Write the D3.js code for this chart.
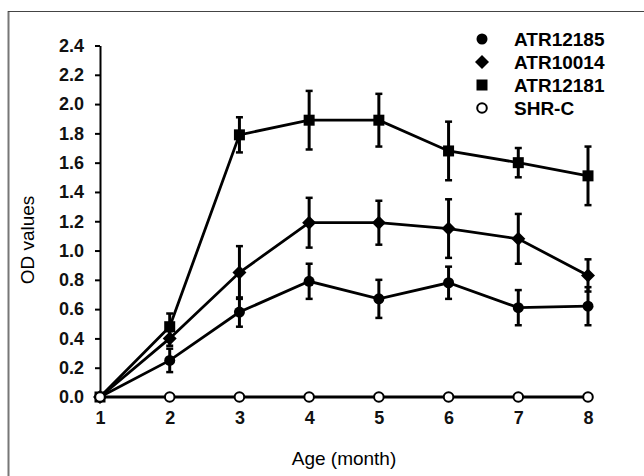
<!DOCTYPE html>
<html>
<head>
<meta charset="utf-8">
<script src="https://cdn.jsdelivr.net/npm/d3@7"></script>
<style>
  body { margin: 0; background: #fff; }
  svg { display: block; font-family: "Liberation Sans", Arial, sans-serif; }
</style>
</head>
<body>
<div id="chart"></div>
<script>
// data
var months = [1, 2, 3, 4, 5, 6, 7, 8];
var yTicks = [0, 0.2, 0.4, 0.6, 0.8, 1.0, 1.2, 1.4, 1.6, 1.8, 2.0, 2.2, 2.4];

var atr12185 = [0, 0.25, 0.58, 0.79, 0.67, 0.78, 0.61, 0.62];
var atr12185Err = [0, 0.08, 0.10, 0.12, 0.13, 0.11, 0.12, 0.13];

var atr10014 = [0, 0.40, 0.85, 1.19, 1.19, 1.15, 1.08, 0.83];
var atr10014Err = [0, 0.05, 0.18, 0.17, 0.15, 0.20, 0.17, 0.11];

var atr12181 = [0, 0.48, 1.79, 1.89, 1.89, 1.68, 1.60, 1.51];
var atr12181Err = [0, 0.09, 0.12, 0.20, 0.18, 0.20, 0.10, 0.20];

var shrc = [0, 0, 0, 0, 0, 0, 0, 0];

var seriesNames = ["ATR12185", "ATR10014", "ATR12181", "SHR-C"];
var seriesSymbols = ["circle", "diamond", "square", "open"];

var series = [
  {name: seriesNames[0], sym: seriesSymbols[0], vals: atr12185, err: atr12185Err},
  {name: seriesNames[1], sym: seriesSymbols[1], vals: atr10014, err: atr10014Err},
  {name: seriesNames[2], sym: seriesSymbols[2], vals: atr12181, err: atr12181Err},
  {name: seriesNames[3], sym: seriesSymbols[3], vals: shrc, err: null}
];

var W = 644, H = 476;
var svg = d3.select("#chart").append("svg")
  .attr("width", W).attr("height", H);

// outer frame (only left and top edges show)
svg.append("line").attr("x1", 8.5).attr("x2", 8.5).attr("y1", 11).attr("y2", H)
  .attr("stroke", "#777").attr("stroke-width", 2);
svg.append("line").attr("x1", 8).attr("x2", W).attr("y1", 11.5).attr("y2", 11.5)
  .attr("stroke", "#444").attr("stroke-width", 1);

var x = d3.scaleLinear().domain([1, 8]).range([100, 588]);
var y = d3.scaleLinear().domain([0, 2.4]).range([397, 45.5]);

// y axis
var yAxis = svg.append("g")
  .attr("transform", "translate(100,0)")
  .call(d3.axisLeft(y).tickValues(yTicks).tickSize(5).tickPadding(11)
    .tickFormat(d3.format(".1f")).tickSizeOuter(0));
yAxis.select(".domain").attr("stroke", "#000").attr("stroke-width", 2);
yAxis.selectAll(".tick line").attr("stroke", "#000").attr("stroke-width", 2);
yAxis.selectAll(".tick text").attr("font-size", 18).attr("font-weight", "bold")
  .attr("font-family", "Liberation Sans, Arial, sans-serif").attr("fill", "#111");

// x axis labels only (the SHR-C line sits on the baseline)
var xAxis = svg.append("g")
  .attr("transform", "translate(0,397)")
  .call(d3.axisBottom(x).tickValues(months).tickSize(0).tickPadding(14)
    .tickFormat(d3.format("d")));
xAxis.select(".domain").remove();
xAxis.selectAll(".tick text").attr("font-size", 18).attr("font-weight", "bold")
  .attr("font-family", "Liberation Sans, Arial, sans-serif").attr("fill", "#111");

// axis titles
svg.append("text")
  .attr("x", 344).attr("y", 465)
  .attr("text-anchor", "middle")
  .attr("font-size", 19)
  .text("Age (month)");

svg.append("text")
  .attr("transform", "translate(34,240) rotate(-90)")
  .attr("text-anchor", "middle")
  .attr("font-size", 19)
  .text("OD values");

var line = d3.line()
  .x(function(d, i) { return x(months[i]); })
  .y(function(d) { return y(d); });

function drawMarker(g, sym, cx, cy) {
  if (sym === "circle") {
    g.append("circle").attr("cx", cx).attr("cy", cy).attr("r", 5.5).attr("fill", "#000");
  } else if (sym === "diamond") {
    g.append("path").attr("transform", "translate(" + cx + "," + cy + ")")
      .attr("d", "M0,-7L7,0L0,7L-7,0Z").attr("fill", "#000");
  } else if (sym === "square") {
    g.append("rect").attr("x", cx - 5.5).attr("y", cy - 5.5)
      .attr("width", 11).attr("height", 11).attr("fill", "#000");
  } else {
    g.append("circle").attr("cx", cx).attr("cy", cy).attr("r", 4.8)
      .attr("fill", "#fff").attr("stroke", "#000").attr("stroke-width", 2);
  }
}

series.forEach(function(s) {
  var g = svg.append("g");
  g.append("path").datum(s.vals)
    .attr("d", line)
    .attr("fill", "none")
    .attr("stroke", "#000")
    .attr("stroke-width", 2.8);

  if (s.err) {
    s.vals.forEach(function(v, i) {
      if (!s.err[i]) return;
      var cx = x(months[i]);
      var top = y(v + s.err[i]), bot = y(v - s.err[i]);
      g.append("line").attr("x1", cx).attr("x2", cx).attr("y1", top).attr("y2", bot)
        .attr("stroke", "#000").attr("stroke-width", 3);
      [top, bot].forEach(function(yy) {
        g.append("line").attr("x1", cx - 3.5).attr("x2", cx + 3.5)
          .attr("y1", yy).attr("y2", yy)
          .attr("stroke", "#000").attr("stroke-width", 2.5);
      });
    });
  }
});

// markers on top
series.forEach(function(s) {
  var g = svg.append("g");
  s.vals.forEach(function(v, i) {
    drawMarker(g, s.sym, x(months[i]), y(v));
  });
});

// legend
var legY = d3.scaleLinear().domain([0, 3]).range([39, 108]);
var legend = svg.append("g");
series.forEach(function(s, i) {
  drawMarker(legend, s.sym, 482, legY(i));
  legend.append("text")
    .attr("x", 514).attr("y", legY(i))
    .attr("dy", "0.36em")
    .attr("font-size", 19)
    .attr("font-weight", "bold")
    .text(s.name);
});
</script>
</body>
</html>
